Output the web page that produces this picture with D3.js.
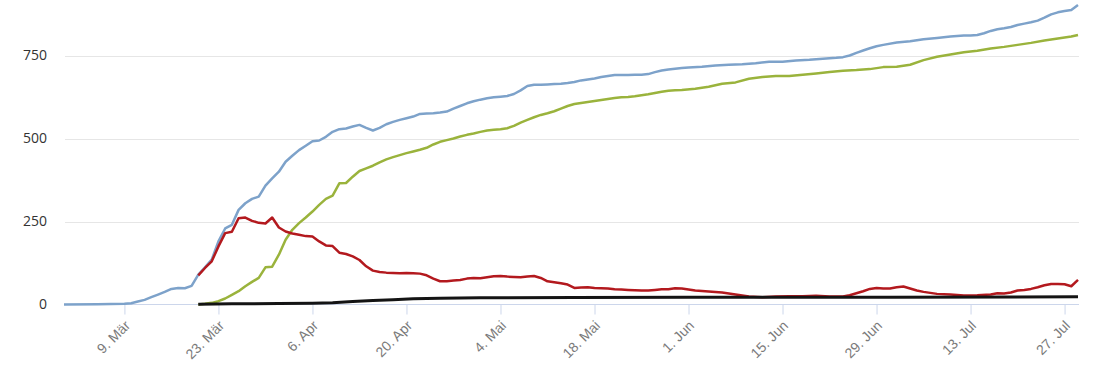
<!DOCTYPE html>
<html>
<head>
<meta charset="utf-8">
<script src="https://cdn.jsdelivr.net/npm/d3@7"></script>
<style>
  body { margin: 0; background: #fff; }
  .chart svg { display: block; font-family: "Open Sans", "DejaVu Sans", sans-serif; }
  .grid line { stroke: #e6e6e6; }
  .x-axis path { stroke: #ccd6eb; }
  .x-axis line { stroke: #ccd6eb; }
  .x-axis text { fill: #7a7a7a; font-size: 14px; }
  .y-axis text { fill: #333; font-size: 14px; }
</style>
</head>
<body>
<div class="chart"></div>
<script>
// tick dates on the x axis (2020)
const tickDates = ["03-09", "03-23", "04-06", "04-20", "05-04", "05-18", "06-01", "06-15", "06-29", "07-13", "07-27"];
const monthNames = ["Jan", "Feb", "Mär", "Apr", "Mai", "Jun", "Jul", "Aug", "Sep", "Okt", "Nov", "Dez"];
const yTicks = [0, 250, 500, 750];

// Infizierte (blue)
const confirmed = [
  ["02-29",0],["03-05",1],["03-09",2],["03-10",4],["03-11",9],["03-12",14],["03-13",22],["03-14",30],
  ["03-15",38],["03-16",47],["03-17",50],["03-18",49],["03-19",56],["03-20",90],["03-21",112],["03-22",135],
  ["03-23",190],["03-24",229],["03-25",240],["03-26",285],["03-27",305],["03-28",318],["03-29",325],["03-30",358],
  ["03-31",380],["04-01",400],["04-02",430],["04-03",448],["04-04",465],["04-05",478],["04-06",492],["04-07",494],
  ["04-08",505],["04-09",520],["04-10",528],["04-11",530],["04-12",536],["04-13",541],["04-14",532],["04-15",524],
  ["04-16",532],["04-17",543],["04-18",550],["04-19",556],["04-20",561],["04-21",566],["04-22",574],["04-23",575],
  ["04-24",576],["04-25",578],["04-26",581],["04-27",590],["04-28",598],["04-29",606],["04-30",612],["05-01",617],
  ["05-02",621],["05-03",624],["05-04",626],["05-05",628],["05-06",634],["05-07",645],["05-08",658],["05-09",662],
  ["05-10",662],["05-11",663],["05-12",664],["05-13",665],["05-14",667],["05-15",670],["05-16",675],["05-17",678],
  ["05-18",681],["05-19",685],["05-20",688],["05-21",691],["05-22",691],["05-23",691],["05-24",692],["05-25",692],
  ["05-26",694],["05-27",700],["05-28",705],["05-29",708],["05-30",710],["05-31",712],["06-01",714],["06-03",716],
  ["06-05",720],["06-07",722],["06-09",724],["06-11",727],["06-13",731],["06-15",731],["06-17",735],["06-19",737],
  ["06-21",740],["06-23",743],["06-24",745],["06-25",750],["06-26",758],["06-27",765],["06-28",772],["06-29",778],
  ["06-30",782],["07-02",789],["07-04",793],["07-06",799],["07-08",803],["07-10",807],["07-12",810],["07-13",810],
  ["07-14",812],["07-15",817],["07-16",824],["07-17",829],["07-18",832],["07-19",836],["07-20",842],["07-21",846],
  ["07-22",850],["07-23",855],["07-24",864],["07-25",874],["07-26",880],["07-27",884],["07-28",887],["07-29",902]
];

// Genesene (green)
const recovered = [
  ["03-20",0],["03-21",2],["03-22",5],["03-23",10],["03-24",18],["03-25",29],["03-26",40],["03-27",55],
  ["03-28",68],["03-29",80],["03-30",112],["03-31",114],["04-01",150],["04-02",195],["04-03",225],["04-04",245],
  ["04-05",262],["04-06",280],["04-07",300],["04-08",318],["04-09",328],["04-10",365],["04-11",366],["04-12",385],
  ["04-13",402],["04-14",410],["04-15",418],["04-16",428],["04-17",437],["04-18",444],["04-19",450],["04-20",456],
  ["04-21",461],["04-22",466],["04-23",472],["04-24",482],["04-25",490],["04-26",495],["04-27",500],["04-28",506],
  ["04-29",511],["04-30",515],["05-01",520],["05-02",524],["05-03",526],["05-04",528],["05-05",531],["05-06",538],
  ["05-07",548],["05-08",556],["05-09",564],["05-10",571],["05-11",576],["05-12",582],["05-13",590],["05-14",598],
  ["05-15",604],["05-16",607],["05-17",610],["05-18",613],["05-19",616],["05-20",619],["05-21",622],["05-22",624],
  ["05-23",625],["05-24",627],["05-25",630],["05-26",633],["05-27",637],["05-28",641],["05-29",644],["05-30",645],
  ["05-31",646],["06-02",650],["06-04",656],["06-06",665],["06-08",669],["06-10",680],["06-12",685],["06-14",688],
  ["06-16",688],["06-18",692],["06-20",696],["06-22",700],["06-24",704],["06-26",706],["06-28",709],["06-30",715],
  ["07-02",716],["07-04",722],["07-06",736],["07-08",746],["07-10",753],["07-12",760],["07-14",764],["07-16",771],
  ["07-18",776],["07-20",782],["07-22",788],["07-24",795],["07-26",801],["07-28",807],["07-29",812]
];

// Aktive Fälle (red)
const active = [
  ["03-20",88],["03-21",110],["03-22",130],["03-23",175],["03-24",215],["03-25",219],["03-26",260],["03-27",262],
  ["03-28",252],["03-29",246],["03-30",244],["03-31",262],["04-01",232],["04-02",220],["04-03",214],["04-04",210],
  ["04-05",206],["04-06",205],["04-07",190],["04-08",178],["04-09",176],["04-10",156],["04-11",152],["04-12",145],
  ["04-13",134],["04-14",115],["04-15",102],["04-16",98],["04-17",96],["04-18",95],["04-19",94],["04-20",95],
  ["04-21",94],["04-22",93],["04-23",88],["04-24",78],["04-25",70],["04-26",70],["04-27",72],["04-28",74],
  ["04-29",78],["04-30",80],["05-01",79],["05-02",82],["05-03",85],["05-04",86],["05-05",84],["05-06",83],
  ["05-07",82],["05-08",84],["05-09",86],["05-10",80],["05-11",70],["05-12",67],["05-13",64],["05-14",60],
  ["05-15",50],["05-16",51],["05-17",52],["05-18",50],["05-19",49],["05-20",48],["05-21",46],["05-22",45],
  ["05-23",44],["05-24",43],["05-25",42],["05-26",42],["05-27",44],["05-28",46],["05-29",46],["05-30",49],
  ["05-31",48],["06-02",42],["06-04",39],["06-06",36],["06-08",30],["06-10",24],["06-12",22],["06-14",24],
  ["06-16",25],["06-18",25],["06-20",26],["06-22",24],["06-24",24],["06-25",28],["06-26",34],["06-27",40],
  ["06-28",47],["06-29",50],["06-30",48],["07-01",48],["07-02",52],["07-03",54],["07-04",48],["07-05",42],
  ["07-06",38],["07-08",32],["07-10",30],["07-12",27],["07-14",28],["07-16",30],["07-17",34],["07-18",33],
  ["07-19",36],["07-20",42],["07-21",44],["07-22",47],["07-23",52],["07-24",58],["07-25",62],["07-26",62],
  ["07-27",61],["07-28",55],["07-29",74]
];

// Todesfälle (black)
const deaths = [
  ["03-20",1],["03-25",2],["04-01",3],["04-06",4],["04-09",5],["04-12",9],["04-15",12],["04-18",14],
  ["04-21",17],["04-25",19],["05-01",20],["05-15",21],["06-01",22],["07-01",22],["07-29",23]
];

const parseDay = d3.timeParse("%Y-%m-%d");
const toDate = s => parseDay("2020-" + s);

const series = [
  {name: "Infizierte", data: confirmed, color: "#7da2ca"},
  {name: "Genesene", data: recovered, color: "#9ab33c"},
  {name: "Aktive Fälle", data: active, color: "#b3191e"},
  {name: "Todesfälle", data: deaths, color: "#141414"}
];

const width = 1110, height = 370;

const svg = d3.select(".chart")
              .append("svg")
              .attr("width", width)
              .attr("height", height);

const xScale = d3.scaleTime()
                 .domain([toDate("02-29"), toDate("07-29")])
                 .range([64, 1078]);

const yScale = d3.scaleLinear()
                 .domain([0, 750])
                 .range([304.5, 55.5]);

// gridlines
svg.append("g")
    .attr("class", "grid")
    .selectAll("line")
    .data(yTicks.slice(1))
    .enter()
    .append("line")
    .attr("x1", 65)
    .attr("x2", 1079)
    .attr("y1", d => Math.round(yScale(d)) + 0.5)
    .attr("y2", d => Math.round(yScale(d)) + 0.5);

// y labels
svg.append("g")
    .attr("class", "axis y-axis")
    .selectAll("text")
    .data(yTicks)
    .enter()
    .append("text")
    .attr("x", 47)
    .attr("y", d => yScale(d))
    .attr("dy", "0.35em")
    .attr("text-anchor", "end")
    .text(d => d);

// x axis
const xAxis = d3.axisBottom(xScale)
                .tickValues(tickDates.map(toDate))
                .tickSize(10)
                .tickSizeOuter(0)
                .tickFormat(d => d.getDate() + ". " + monthNames[d.getMonth()]);

const gx = svg.append("g")
    .attr("class", "axis x-axis")
    .attr("transform", "translate(0,304.5)")
    .call(xAxis);

gx.select(".domain").attr("d", "M65,0H1079");

gx.selectAll("text")
    .attr("y", 0)
    .attr("dy", 0)
    .attr("text-anchor", "end")
    .attr("transform", "translate(6,22) rotate(-45)");

// lines
const line = d3.line()
               .x(d => xScale(toDate(d[0])))
               .y(d => yScale(d[1]));

svg.append("g")
    .selectAll("path")
    .data(series)
    .enter()
    .append("path")
    .attr("fill", "none")
    .attr("stroke", d => d.color)
    .attr("stroke-width", d => d.name == "Todesfälle" ? 3 : 2.5)
    .attr("stroke-linejoin", "round")
    .attr("d", d => line(d.data));
</script>
</body>
</html>
